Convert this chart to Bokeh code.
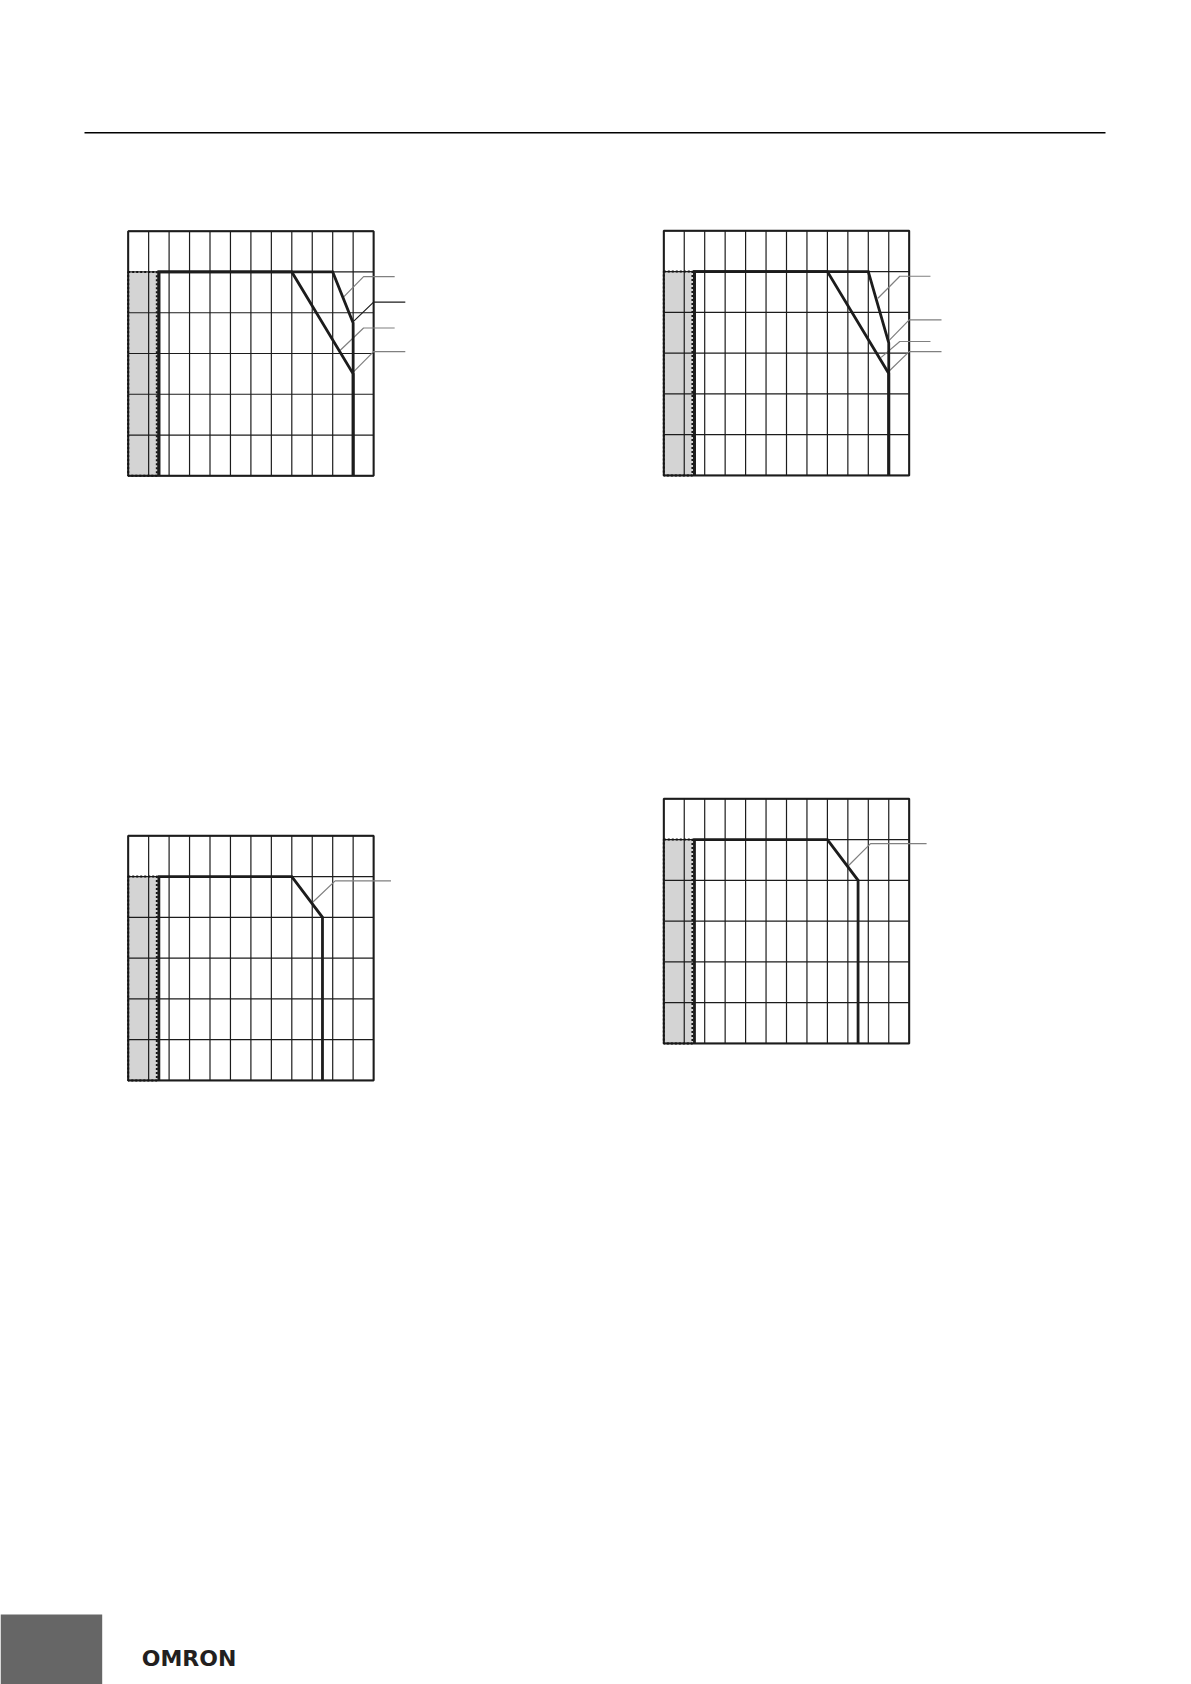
from bokeh.plotting import figure
from bokeh.layouts import column, row
from bokeh.models import Range1d
from bokeh.embed import file_html
from bokeh.resources import INLINE
from bokeh.core.properties import value

# ---------------- data ----------------
temps = [-40, -30, -20, -10, 0, 10, 20, 30, 40, 50, 60, 70, 80]   # ambient temperature grid (deg C)
loads = [0, 20, 40, 60, 80, 100, 120]                            # load grid (%)
shade_temp = [-40, -25]
shade_load = [0, 100]

# chart 1 (top left)
c1_a_temp = [-25, -25, 40, 70, 70]
c1_a_load = [0, 100, 100, 50, 0]
c1_b_temp = [-25, -25, 60, 70, 70]
c1_b_load = [0, 100, 100, 75, 0]
c1_lead_temp = [[65.4, 75.1, 90.3], [69.8, 80.0, 95.5], [63.7, 75.1, 90.3], [69.8, 80.0, 95.5]]
c1_lead_load = [[87.8, 97.7, 97.7], [75.4, 85.2, 85.2], [61.6, 72.5, 72.5], [50.6, 60.9, 60.9]]

# chart 2 (top right)
c2_a_temp = [-25, -25, 40, 70, 70]
c2_a_load = [0, 100, 100, 50, 0]
c2_b_temp = [-25, -25, 60, 70, 70]
c2_b_load = [0, 100, 100, 65, 0]
c2_lead_temp = [[64.7, 75.4, 90.4], [70.1, 80.0, 95.8], [66.3, 75.4, 90.4], [70.1, 80.0, 95.8]]
c2_lead_load = [[86.9, 97.7, 97.7], [66.1, 76.3, 76.3], [57.9, 65.7, 65.7], [51.1, 60.7, 60.7]]

# chart 3 (bottom left)
c3_temp = [-25, -25, 40, 55, 55]
c3_load = [0, 100, 100, 80, 0]
c3_lead_temp = [[50.1, 61.2, 88.5]]
c3_lead_load = [[87.3, 97.9, 97.9]]

# chart 4 (bottom right)
c4_temp = [-25, -25, 40, 55, 55]
c4_load = [0, 100, 100, 80, 0]
c4_lead_temp = [[50.0, 61.1, 88.5]]
c4_lead_load = [[86.9, 98.0, 98.0]]

brand = "OMRON"

# ---------------- styling / layout ----------------
PAGE_W = 1191
CHART_W_PX = 245.4
CHART_H_PX = 244.6
PX_T = CHART_W_PX / (temps[-1] - temps[0])
PX_L = CHART_H_PX / (loads[-1] - loads[0])
INK = "#1c1c1c"
LEAD_GRAY = "#808080"


def chart(width, height, left_px, top_px, curves, lead_t, lead_l, lead_colors):
    x0 = temps[0] - left_px / PX_T
    y1 = loads[-1] + top_px / PX_L
    p = figure(width=width, height=height,
               x_range=Range1d(x0, x0 + width / PX_T),
               y_range=Range1d(y1 - height / PX_L, y1),
               x_axis_type=None, y_axis_type=None, title=None,
               toolbar_location=None, output_backend="svg",
               min_border=0, outline_line_color=None,
               background_fill_color="white", border_fill_color="white")
    # shaded region
    p.quad(left=[shade_temp[0]], right=[shade_temp[1]], bottom=[shade_load[0]], top=[shade_load[1]],
           fill_color="#d4d4d4", line_color=None)
    # grid
    p.segment(x0=temps, y0=[loads[0]] * len(temps), x1=temps, y1=[loads[-1]] * len(temps),
              line_color=INK, line_width=1.2)
    p.segment(x0=[temps[0]] * len(loads), y0=loads, x1=[temps[-1]] * len(loads), y1=loads,
              line_color=INK, line_width=1.2)
    # frame
    p.quad(left=[temps[0]], right=[temps[-1]], bottom=[loads[0]], top=[loads[-1]],
           fill_color=None, line_color=INK, line_width=2)
    # dotted border of shaded region
    p.quad(left=[shade_temp[0]], right=[shade_temp[1] - 1.0], bottom=[shade_load[0]], top=[shade_load[1]],
           fill_color=None, line_color="#151515", line_width=2, line_dash="2 2")
    # leader lines
    for lt, ll, lc in zip(lead_t, lead_l, lead_colors):
        p.line(lt, ll, line_color=lc, line_width=1.2)
    # curves
    for ct, cl in curves:
        p.line(ct, cl, line_color=INK, line_width=2.8, line_join="miter")
    return p


# header with rule
header = figure(width=PAGE_W, height=208, x_range=Range1d(0, PAGE_W), y_range=Range1d(208, 0),
                x_axis_type=None, y_axis_type=None, title=None, toolbar_location=None,
                output_backend="svg", min_border=0, outline_line_color=None)
header.segment(x0=[84], y0=[132.3], x1=[1105], y1=[132.3], line_color="black", line_width=1.5)

f1 = chart(595, 360, 127.7, 22.7, [(c1_a_temp, c1_a_load), (c1_b_temp, c1_b_load)],
           c1_lead_temp, c1_lead_load, [LEAD_GRAY, INK, LEAD_GRAY, LEAD_GRAY])
f2 = chart(596, 360, 68.3, 22.3, [(c2_a_temp, c2_a_load), (c2_b_temp, c2_b_load)],
           c2_lead_temp, c2_lead_load, [LEAD_GRAY] * 4)
f3 = chart(595, 540, 127.7, 267.3, [(c3_temp, c3_load)], c3_lead_temp, c3_lead_load, [LEAD_GRAY])
f4 = chart(596, 540, 68.3, 230.3, [(c4_temp, c4_load)], c4_lead_temp, c4_lead_load, [LEAD_GRAY])

footer = figure(width=PAGE_W, height=576, x_range=Range1d(0, PAGE_W), y_range=Range1d(576, 0),
                x_axis_type=None, y_axis_type=None, title=None, toolbar_location=None,
                output_backend="svg", min_border=0, outline_line_color=None)
footer.quad(left=[0], right=[101.7], top=[506], bottom=[576], fill_color="#666666", line_color=None)
footer.text(x=[141.2], y=[549.7], text=[brand], text_font=value("DejaVu Sans"),
            text_font_style="bold", text_font_size="22px", text_color="#231f20",
            text_baseline="alphabetic", text_align="left")

page = column(header, row(f1, f2), row(f3, f4), footer, spacing=0)
open("out.html", "w").write(file_html(page, INLINE))
